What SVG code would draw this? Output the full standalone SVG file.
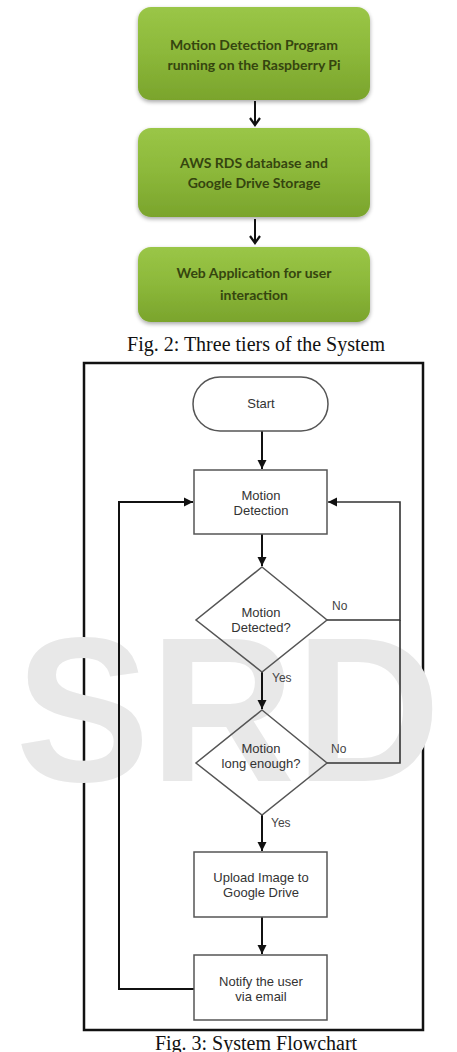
<svg xmlns="http://www.w3.org/2000/svg" width="457" height="1052" viewBox="0 0 457 1052">
  <defs>
    <linearGradient id="green" x1="0" y1="0" x2="0" y2="1">
      <stop offset="0" stop-color="#9ac647"/>
      <stop offset="0.5" stop-color="#8cb83a"/>
      <stop offset="1" stop-color="#7aa42c"/>
    </linearGradient>
    <filter id="shadow" x="-10%" y="-10%" width="120%" height="130%">
      <feGaussianBlur in="SourceAlpha" stdDeviation="2"/>
      <feOffset dx="0" dy="2" result="b"/>
      <feComponentTransfer><feFuncA type="linear" slope="0.35"/></feComponentTransfer>
      <feMerge><feMergeNode/><feMergeNode in="SourceGraphic"/></feMerge>
    </filter>
    <marker id="chev" markerWidth="12" markerHeight="12" refX="10" refY="6" orient="auto" markerUnits="userSpaceOnUse" viewBox="0 0 12 12">
      <path d="M3,1 L10,6 L3,11" fill="none" stroke="#111" stroke-width="2.2"/>
    </marker>
    <marker id="tri" markerWidth="10" markerHeight="10" refX="9" refY="5" orient="auto" markerUnits="userSpaceOnUse" viewBox="0 0 10 10">
      <path d="M0,0.5 L9,5 L0,9.5 Z" fill="#111"/>
    </marker>
  </defs>
  <style>
    .gbox { fill: url(#green); filter: url(#shadow); }
    .gtxt { font-family: Lato, "Open Sans", sans-serif; font-size: 14px; font-weight: 700; fill: #35450f; text-anchor: middle; }
    .cap { font-family: "Liberation Serif", "Times New Roman", serif; font-size: 20px; fill: #111; text-anchor: middle; }
    .node { fill: none; stroke: #555; stroke-width: 1.5; }
    .ftxt { font-family: "Liberation Sans", Arial, sans-serif; font-size: 13px; fill: #333; text-anchor: middle; }
    .lbl { font-family: "Liberation Sans", Arial, sans-serif; font-size: 12px; fill: #444; }
    .edge { fill: none; stroke: #111; stroke-width: 2; }
    .edgeThin { fill: none; stroke: #333; stroke-width: 1.6; }
  </style>
  <rect width="457" height="1052" fill="#fff"/>

  <!-- Fig. 2: three tiers -->
  <g id="tier1">
    <rect class="gbox" x="138" y="7" width="232" height="93" rx="13"/>
    <text class="gtxt" x="254" y="50">Motion Detection Program</text>
    <text class="gtxt" x="254" y="70">running on the Raspberry Pi</text>
  </g>
  <g id="tier2">
    <rect class="gbox" x="138" y="128" width="232" height="89" rx="13"/>
    <text class="gtxt" x="254" y="168">AWS RDS database and</text>
    <text class="gtxt" x="254" y="188">Google Drive Storage</text>
  </g>
  <g id="tier3">
    <rect class="gbox" x="138" y="247" width="232" height="75" rx="13"/>
    <text class="gtxt" x="254" y="278">Web Application for user</text>
    <text class="gtxt" x="254" y="300">interaction</text>
  </g>
  <g id="tier-connectors">
    <line class="edge" x1="255" y1="101" x2="255" y2="125" marker-end="url(#chev)"/>
    <line class="edge" x1="255" y1="219" x2="255" y2="243" marker-end="url(#chev)"/>
  </g>
  <text id="caption2" class="cap" x="256" y="351">Fig. 2: Three tiers of the System</text>

  <!-- Fig. 3 frame -->
  <rect id="frame" x="84" y="363" width="339" height="667" fill="#fff" stroke="#111" stroke-width="2.5"/>

  <!-- watermark -->
  <text id="watermark" x="228" y="781" font-family="'Liberation Sans', Arial, sans-serif" font-size="206" font-weight="bold" fill="#e8e8e8" text-anchor="middle" textLength="425" lengthAdjust="spacingAndGlyphs">SRD</text>

  <!-- connectors -->
  <g id="connectors">
    <line class="edge" x1="262" y1="431" x2="262" y2="469" marker-end="url(#tri)"/>
    <line class="edge" x1="262" y1="534" x2="262" y2="566" marker-end="url(#tri)"/>
    <line class="edge" x1="262" y1="672" x2="262" y2="709" marker-end="url(#tri)"/>
    <polyline class="edgeThin" points="327,620 400,620 400,502 328,502" marker-end="url(#tri)"/>
    <polyline class="edgeThin" points="327,763 400,763 400,620"/>
    <line class="edge" x1="262" y1="815" x2="262" y2="851" marker-end="url(#tri)"/>
    <line class="edge" x1="262" y1="917" x2="262" y2="954" marker-end="url(#tri)"/>
    <polyline class="edge" points="194,989 119,989 119,502 193,502" marker-end="url(#tri)"/>
    <text class="lbl" x="332" y="610">No</text>
    <text class="lbl" x="272" y="682">Yes</text>
    <text class="lbl" x="331" y="753">No</text>
    <text class="lbl" x="271" y="827">Yes</text>
  </g>

  <!-- nodes -->
  <g id="start">
    <rect class="node" x="193" y="377" width="135" height="54" rx="27"/>
    <text class="ftxt" x="261" y="408">Start</text>
  </g>
  <g id="motion-detection">
    <rect class="node" x="194" y="470" width="133" height="64"/>
    <text class="ftxt" x="261" y="500">Motion</text>
    <text class="ftxt" x="261" y="515">Detection</text>
  </g>
  <g id="decision-detected">
    <polygon class="node" points="262,567 327,620 262,672 196,620"/>
    <text class="ftxt" x="261" y="617">Motion</text>
    <text class="ftxt" x="261" y="632">Detected?</text>
  </g>
  <g id="decision-long">
    <polygon class="node" points="262,710 327,763 262,815 196,763"/>
    <text class="ftxt" x="261" y="753">Motion</text>
    <text class="ftxt" x="261" y="768">long enough?</text>
  </g>
  <g id="upload">
    <rect class="node" x="194" y="852" width="133" height="65"/>
    <text class="ftxt" x="261" y="882">Upload Image to</text>
    <text class="ftxt" x="261" y="897">Google Drive</text>
  </g>
  <g id="notify">
    <rect class="node" x="194" y="955" width="133" height="65"/>
    <text class="ftxt" x="261" y="986">Notify the user</text>
    <text class="ftxt" x="261" y="1001">via email</text>
  </g>

  <text id="caption3" class="cap" x="256" y="1050">Fig. 3: System Flowchart</text>
</svg>
